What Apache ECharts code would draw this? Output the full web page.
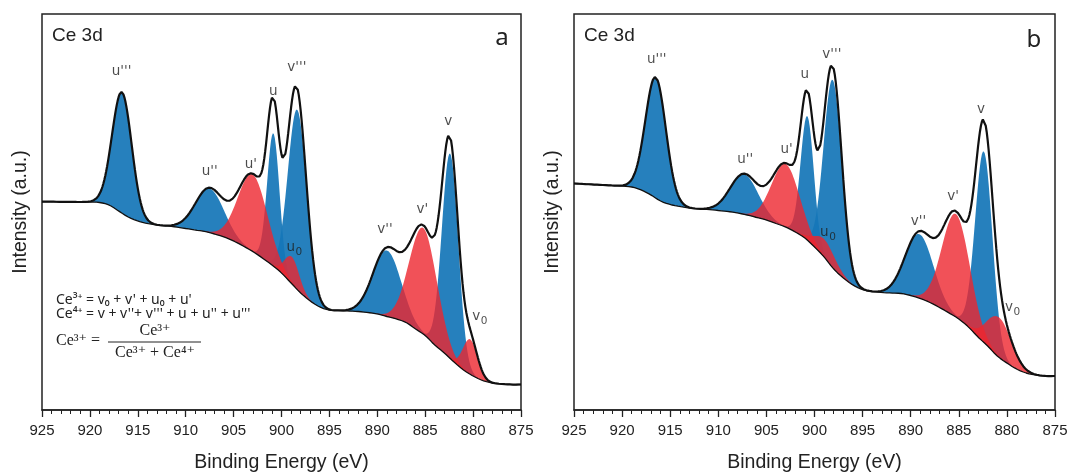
<!DOCTYPE html>
<html><head><meta charset="utf-8">
<script src="https://cdn.jsdelivr.net/npm/echarts@6/dist/echarts.min.js"></script>
<style>html,body{margin:0;padding:0;background:#fff}#c{width:1067px;height:472px}</style>
</head><body><div id="c"></div>
<script>
// Background knots at 1 eV steps, from 925 eV down to 875 eV (intensity, a.u.)
const energyKnots = [925,924,923,922,921,920,919,918,917,916,915,914,913,912,911,910,909,908,907,906,905,904,903,902,901,900,899,898,897,896,895,894,893,892,891,890,889,888,887,886,885,884,883,882,881,880,879,878,877,876,875];
const bgA = [208.3,208.3,208.2,208.1,208,208,207.5,205,199,193,189,186.5,185,184,183,181.5,180,178.5,176,173,169,164,158.5,152,145,137,127,117,109,103,100,99.5,99,98.5,97.5,96,93.5,91,87.5,81,74.5,65,57,48,40,34,29.5,27,26,25.5,25.5];
const bgB = [226.5,226,225.5,225,224.5,224,223,220,215,209,205.5,203.5,202,201,200.5,199.5,198.5,197,195,192.5,190,186.5,183,178,172,163,153,141,132,125,120.5,118.5,117.5,117,116.5,114.5,111.5,107.5,102.5,97,91,83,73,64,54,47,41,37,35,34,34];

// Fitted components
const peakNames = ["u'''", "u''", "u'", "u", "u|0", "v'''", "v''", "v'", "v", "v|0"]; // "|0" = subscript 0
const peakState = [4, 4, 3, 4, 3, 4, 4, 3, 4, 3]; // Ce4+ blue, Ce3+ red
const centersA = [916.65, 907.5, 903.0, 900.85, 898.9, 898.35, 889.0, 885.2, 882.4, 880.3];
const heightsA = [121, 44, 77, 133, 27, 180, 66, 106, 205, 35];
const fwhmA    = [2.4, 3.5, 3.6, 1.5, 1.8, 2.3, 3.4, 3.4, 2.0, 1.8];
const centersB = [916.5, 907.3, 903.0, 900.75, 898.9, 898.1, 889.1, 885.3, 882.4, 880.8];
const heightsB = [121, 40, 63, 124, 18, 188, 64, 103, 191, 40];
const fwhmB    = [2.5, 3.4, 3.4, 1.6, 2.6, 2.2, 3.4, 3.4, 2.1, 3.0];

// Peak label anchor points [eV, intensity]
const labelPosA = [[916.7,338],[907.5,238],[903.2,245],[900.85,318],[898.65,162],[898.4,342],[889.2,180],[885.3,200],[882.6,288],[879.3,93]];
const labelPosB = [[916.4,350],[907.2,250],[902.9,260],[901.0,335],[898.6,177],[898.2,355],[889.2,188],[885.6,213],[882.7,300],[879.4,102]];

const xTickValues = [925,920,915,910,905,900,895,890,885,880,875];

const BLUE = 'rgba(22,118,184,0.93)';
const RED = 'rgba(238,38,46,0.8)';

function bgAt(bg, E) {
  const t = energyKnots[0] - E;
  let i = Math.floor(t); if (i > bg.length - 2) i = bg.length - 2; if (i < 0) i = 0;
  const f = t - i;
  const p0 = bg[Math.max(i - 1, 0)], p1 = bg[i], p2 = bg[i + 1], p3 = bg[Math.min(i + 2, bg.length - 1)];
  return 0.5 * (2 * p1 + (-p0 + p2) * f + (2 * p0 - 5 * p1 + 4 * p2 - p3) * f * f + (-p0 + 3 * p1 - 3 * p2 + p3) * f * f * f);
}
function gauss(h, c, w, E) { const s = w / 2.3548; return h * Math.exp(-(E - c) * (E - c) / (2 * s * s)); }

const samples = [];
for (let k = 0; k <= 500; k++) samples.push(+(925 - k * 0.1).toFixed(2));

function panel(bg, cs, hs, ws) {
  const bgLine = samples.map(E => [E, bgAt(bg, E)]);
  const env = samples.map(E => {
    let s = bgAt(bg, E);
    for (let i = 0; i < cs.length; i++) s += gauss(hs[i], cs[i], ws[i], E);
    return [E, s];
  });
  return { bgLine, env };
}
const PA = panel(bgA, centersA, heightsA, fwhmA);
const PB = panel(bgB, centersB, heightsB, fwhmB);

function peakSeries(idx, bg, cs, hs, ws) {
  const order = [];
  peakState.forEach((s, i) => { if (s === 4) order.push(i); });
  peakState.forEach((s, i) => { if (s === 3) order.push(i); });
  return {
    type: 'custom', xAxisIndex: idx, yAxisIndex: idx, z: 2, silent: true,
    data: order.map(i => [cs[i], 0, i]),
    renderItem: function (params, api) {
      const i = api.value(2);
      const sig = ws[i] / 2.3548;
      const lo = cs[i] - 4.5 * sig, hi = cs[i] + 4.5 * sig;
      const up = [], down = [];
      samples.forEach(E => {
        if (E < lo || E > hi) return;
        const b = bgAt(bg, E);
        up.push(api.coord([E, b + gauss(hs[i], cs[i], ws[i], E)]));
        down.push(api.coord([E, b]));
      });
      const pts = up.concat(down.reverse());
      return { type: 'polygon', shape: { points: pts }, style: { fill: peakState[i] === 4 ? BLUE : RED } };
    }
  };
}

const LABFONT = '"DejaVu Sans", "Liberation Sans", sans-serif';
function labelSeries(idx, pos) {
  return {
    type: 'scatter', xAxisIndex: idx, yAxisIndex: idx, symbolSize: 0, z: 6, silent: true,
    data: pos.map((p, i) => ({ value: p, name: peakNames[i] })),
    label: {
      show: true, position: 'inside', color: '#1e1e1e', fontSize: 13.5, fontFamily: LABFONT,
      formatter: function (p) {
        const parts = p.name.split('|');
        return parts.length > 1 ? '{m|' + parts[0] + '}{s|' + parts[1] + '}' : '{m|' + parts[0] + '}';
      },
      rich: {
        m: { fontSize: 13.5, fontFamily: LABFONT, color: '#1e1e1e', lineHeight: 20, verticalAlign: 'bottom', padding: [0, 0, 4, 0] },
        s: { fontSize: 10.5, fontFamily: LABFONT, color: '#1e1e1e', verticalAlign: 'bottom', padding: [0, 0, 0, 0.5] }
      }
    }
  };
}

const SANS = '"Liberation Sans", Arial, sans-serif';
function xAxisCfg(idx) {
  return {
    gridIndex: idx, type: 'value', min: 875, max: 925, interval: 5, inverse: true,
    axisLine: { show: true, onZero: false, lineStyle: { color: '#222', width: 1.5 } },
    axisTick: { show: true, length: 7, lineStyle: { color: '#222', width: 1.3 } },
    minorTick: { show: true, splitNumber: 5, length: 4, lineStyle: { color: '#222', width: 1 } },
    splitLine: { show: false }, minorSplitLine: { show: false },
    axisLabel: { fontSize: 15, margin: 13, color: '#222', fontFamily: SANS, showMinLabel: true, showMaxLabel: true },
    name: 'Binding Energy (eV)', nameLocation: 'middle', nameGap: 43,
    nameTextStyle: { fontSize: 19.5, color: '#222', fontFamily: SANS }
  };
}
function yAxisCfg(idx) {
  return {
    gridIndex: idx, type: 'value', min: 0, max: 396,
    axisLine: { show: false }, axisTick: { show: false }, axisLabel: { show: false }, splitLine: { show: false },
    name: 'Intensity (a.u.)', nameLocation: 'middle', nameGap: 11,
    nameTextStyle: { fontSize: 19.5, color: '#222', fontFamily: SANS }
  };
}
function lineSeries(idx, data, w, z) {
  return { type: 'line', xAxisIndex: idx, yAxisIndex: idx, data: data, showSymbol: false, silent: true, z: z,
    lineStyle: { color: '#111', width: w }, animation: false };
}

const chart = echarts.init(document.getElementById('c'), null, { renderer: 'canvas' });
const serif = '"Liberation Serif", "DejaVu Serif", serif';
chart.setOption({
  animation: false,
  backgroundColor: '#fff',
  grid: [
    { left: 42, top: 14, width: 479, height: 396, outerBoundsMode: 'none', containLabel: false, show: true, borderColor: '#222', borderWidth: 1.5, backgroundColor: 'transparent' },
    { left: 574, top: 14, width: 481, height: 396, outerBoundsMode: 'none', containLabel: false, show: true, borderColor: '#222', borderWidth: 1.5, backgroundColor: 'transparent' }
  ],
  xAxis: [xAxisCfg(0), xAxisCfg(1)],
  yAxis: [yAxisCfg(0), yAxisCfg(1)],
  series: [
    peakSeries(0, bgA, centersA, heightsA, fwhmA),
    peakSeries(1, bgB, centersB, heightsB, fwhmB),
    lineSeries(0, PA.bgLine, 1.3, 4),
    lineSeries(1, PB.bgLine, 1.3, 4),
    lineSeries(0, PA.env, 2.2, 5),
    lineSeries(1, PB.env, 2.2, 5),
    labelSeries(0, labelPosA),
    labelSeries(1, labelPosB)
  ],
  graphic: [
    { type: 'text', x: 52, y: 36, style: { text: 'Ce 3d', fontSize: 19, fontFamily: SANS, fill: '#222', align: 'left', verticalAlign: 'middle' } },
    { type: 'text', x: 502, y: 38, style: { text: 'a', fontSize: 24, fontFamily: '"Noto Sans", sans-serif', fill: '#222', align: 'center', verticalAlign: 'middle' } },
    { type: 'text', x: 584, y: 36, style: { text: 'Ce 3d', fontSize: 19, fontFamily: SANS, fill: '#222', align: 'left', verticalAlign: 'middle' } },
    { type: 'text', x: 1034, y: 40, style: { text: 'b', fontSize: 24, fontFamily: '"Noto Sans", sans-serif', fill: '#222', align: 'center', verticalAlign: 'middle' } },
    { type: 'text', x: 56, y: 300, style: { text: "Ce³⁺ = v₀ + v' + u₀ + u'", fontSize: 14, fontFamily: '"Noto Sans", sans-serif', fill: '#222', align: 'left', verticalAlign: 'middle' } },
    { type: 'text', x: 56, y: 314, style: { text: "Ce⁴⁺ = v + v''+ v''' + u + u'' + u'''", fontSize: 14, fontFamily: '"Noto Sans", sans-serif', fill: '#222', align: 'left', verticalAlign: 'middle' } },
    { type: 'text', x: 56, y: 341, style: { text: 'Ce³⁺ =', fontSize: 16, fontFamily: serif, fill: '#222', align: 'left', verticalAlign: 'middle' } },
    { type: 'text', x: 155, y: 331, style: { text: 'Ce³⁺', fontSize: 16, fontFamily: serif, fill: '#222', align: 'center', verticalAlign: 'middle' } },
    { type: 'line', shape: { x1: 108, y1: 342, x2: 201, y2: 342 }, style: { stroke: '#222', lineWidth: 1 } },
    { type: 'text', x: 155, y: 353, style: { text: 'Ce³⁺ + Ce⁴⁺', fontSize: 16, fontFamily: serif, fill: '#222', align: 'center', verticalAlign: 'middle' } }
  ]
});
</script></body></html>
